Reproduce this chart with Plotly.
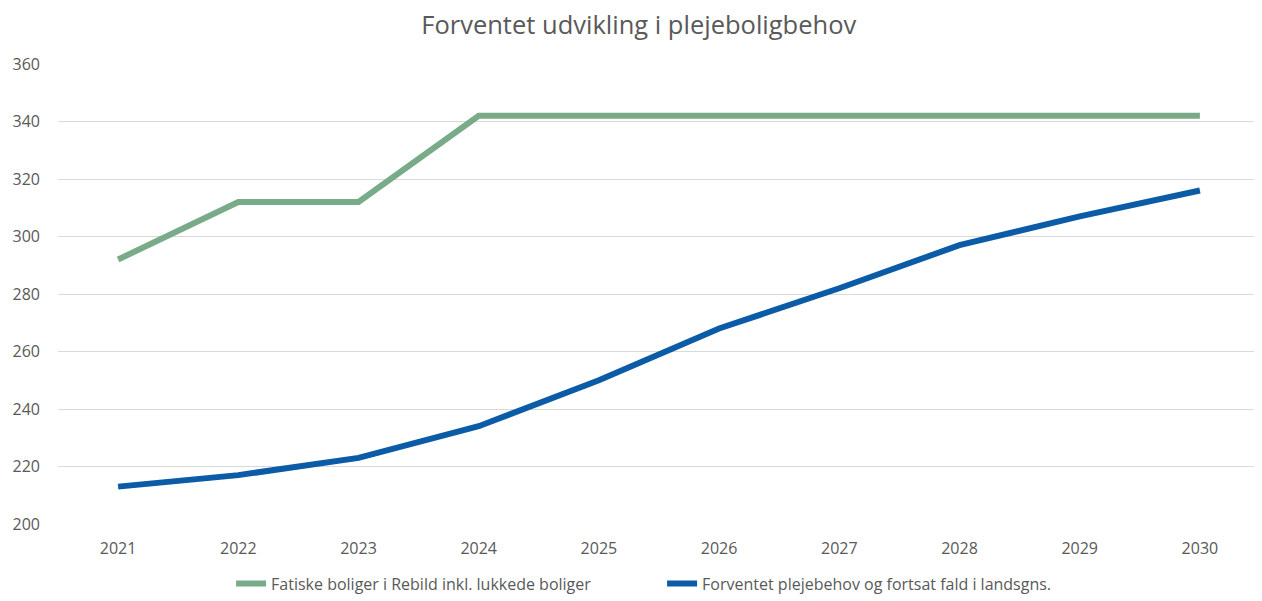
import plotly.graph_objects as go

years = ["2021", "2022", "2023", "2024", "2025", "2026", "2027", "2028", "2029", "2030"]
faktiske = [292, 312, 312, 342, 342, 342, 342, 342, 342, 342]
behov = [213, 217, 223, 234, 250, 268, 282, 297, 307, 316]

name1 = "Fatiske boliger i Rebild inkl. lukkede boliger"
name2 = "Forventet plejebehov og fortsat fald i landsgns."

fig = go.Figure()
fig.add_trace(go.Scatter(x=years, y=faktiske, mode="lines", name=name1,
                         line=dict(color="#79ab88", width=6)))
fig.add_trace(go.Scatter(x=years, y=behov, mode="lines", name=name2,
                         line=dict(color="#0b5ba6", width=6)))

# page body has an 8px margin, so the figure is 8px smaller than the window
fig.update_layout(
    width=1254, height=593,
    margin=dict(l=50, r=2, t=56, b=76),
    paper_bgcolor="white", plot_bgcolor="white",
    font=dict(family="Open Sans, Liberation Sans, sans-serif", color="#595959", size=16),
    title=dict(text="Forventet udvikling i plejeboligbehov", x=0.503, xanchor="center",
               xref="container", y=0.972, yanchor="middle",
               font=dict(size=25.5, color="#595959")),
    xaxis=dict(type="category", range=[-0.5, 9.5], showgrid=False, showline=False,
               ticks="", automargin=False, ticklabelstandoff=13,
               tickfont=dict(size=16, color="#595959")),
    yaxis=dict(range=[200, 360], dtick=20, showgrid=True, gridcolor="#d9d9d9",
               gridwidth=1, zeroline=False, showline=False, ticks="", automargin=False,
               tickfont=dict(size=16, color="#595959"), ticklabelstandoff=17),
    legend=dict(orientation="h", x=0.144, xanchor="left", y=-0.164, yanchor="bottom",
                font=dict(size=16, color="#595959"), entrywidth=386,
                entrywidthmode="pixels", tracegroupgap=0),
    showlegend=True,
)

fig.write_html("out.html")
